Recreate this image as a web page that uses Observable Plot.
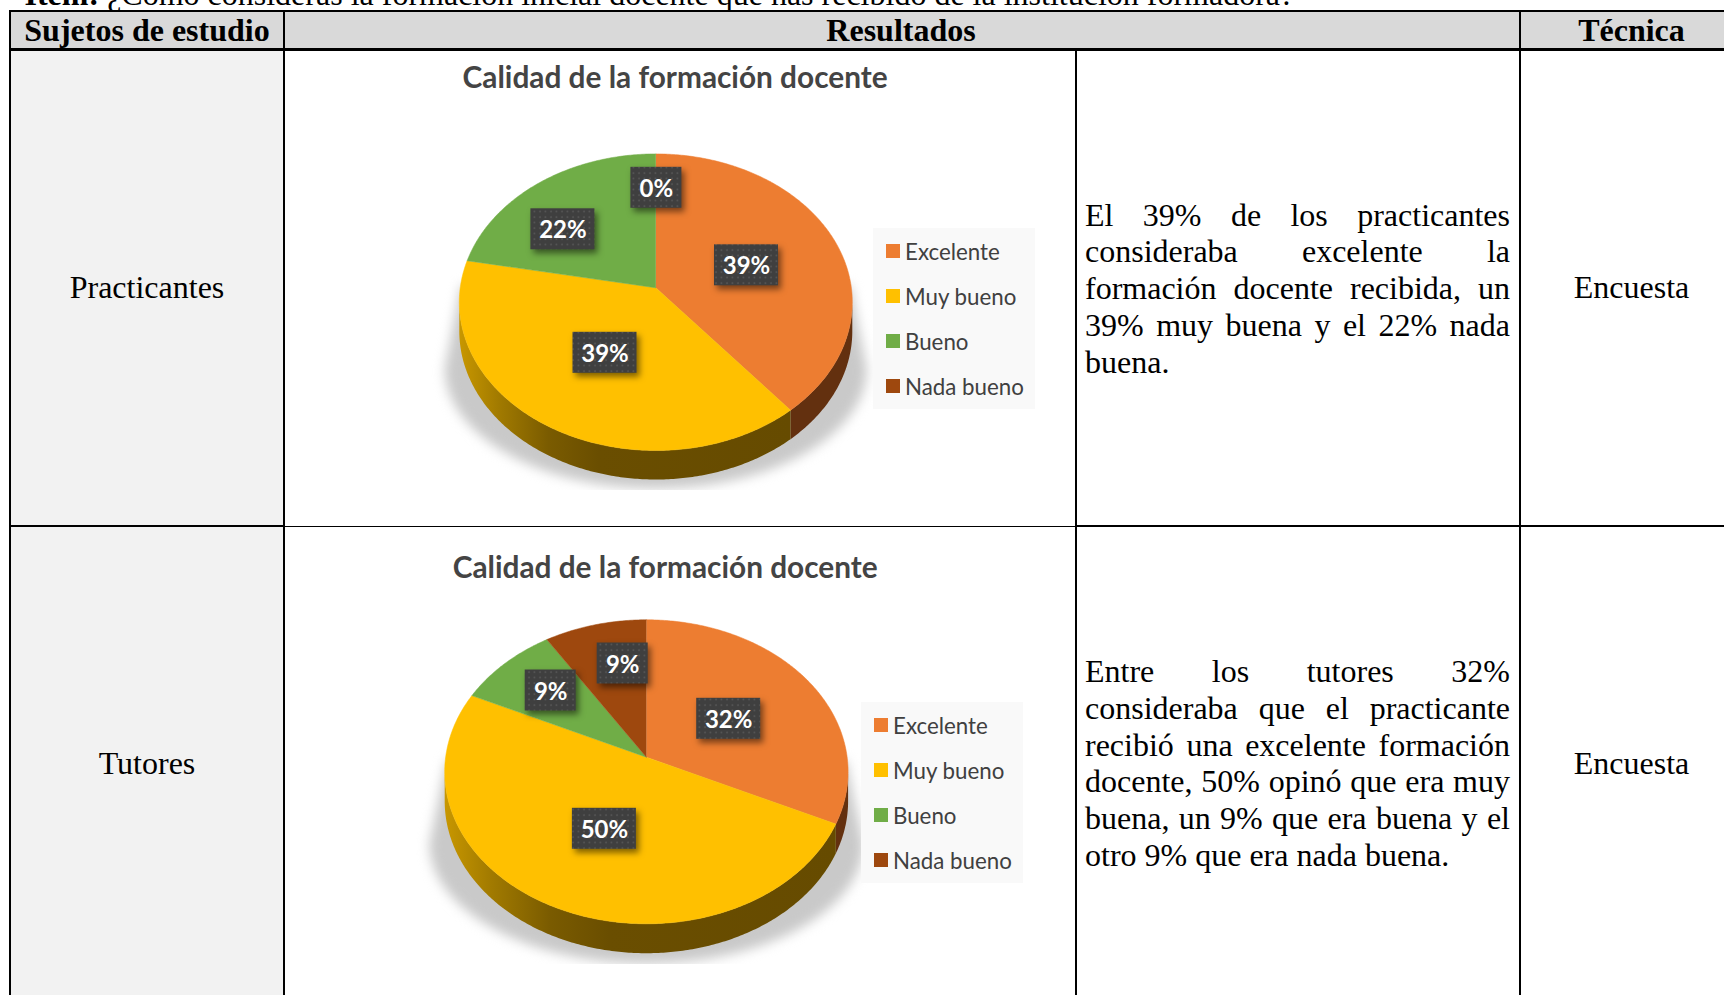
<!DOCTYPE html>
<html lang="es">
<head>
<meta charset="utf-8">
<title>Calidad de la formación docente</title>
<script src="https://cdn.jsdelivr.net/npm/d3@7"></script>
<script src="https://cdn.jsdelivr.net/npm/@observablehq/plot@0.6"></script>
<style>
  html, body { margin: 0; padding: 0; background: #fff; width: 1724px; height: 995px; overflow: hidden; }
  #page { position: relative; width: 1724px; height: 995px; overflow: hidden; font-family: "Liberation Serif", serif; font-size: 32px; color: #000; }
  .box { position: absolute; box-sizing: border-box; }
  .line { position: absolute; background: #000; }
  .t { position: absolute; white-space: nowrap; line-height: 37px; }
  .c { transform: translateX(-50%); }
  .j { position: absolute; left: 1085px; width: 425px; line-height: 37px; text-align: justify; text-align-last: justify; white-space: normal; }
  .j.last { text-align-last: left; }
  .chart { position: absolute; }
  .chart svg { display: block; background: transparent !important; }
</style>
</head>
<body>
<div id="page"></div>
<script>
// ---- data ----
const categories = ["Excelente", "Muy bueno", "Bueno", "Nada bueno"];
const practicantes = [39, 39, 22, 0];
const tutores = [32, 50, 9, 9];
const chartTitle = "Calidad de la formación docente";
const itemText = "¿Cómo consideras la formación inicial docente que has recibido de la institución formadora?";
const headers = ["Sujetos de estudio", "Resultados", "Técnica"];
const subjects = ["Practicantes", "Tutores"];
const technique = "Encuesta";
const textPracticantes = [
  "El 39% de los practicantes",
  "consideraba excelente la",
  "formación docente recibida, un",
  "39% muy buena y el 22% nada",
  "buena."
];
const textTutores = [
  "Entre los tutores 32%",
  "consideraba que el practicante",
  "recibió una excelente formación",
  "docente, 50% opinó que era muy",
  "buena, un 9% que era buena y el",
  "otro 9% que era nada buena."
];

// ---- styling and layout, kept apart from the data ----
const sliceColors = ["#ED7D31", "#FFC000", "#70AD47", "#9E480E"];
const sideFills = ["#63300F", "url(#sideYellow)", "#47702D", "#5E2B08"];
const pies = [
  { top: 50, height: 476, titleX: 674.6, titleY: 78,
    cx: 655.3, cy: 301.7, rx: 196.5, ry: 148.3, apex: 14.4, depth: 29,
    shadow: { cy: 368, rx: 211, ry: 120, topY: 285, clipY: 490 },
    legend: { x1: 873, x2: 1035, y1: 228, y2: 409, swatchX: 886, textX: 904.5, firstY: 251 },
    labelOffsets: [[90.7, -22.5], [-50.8, 65], [-92.9, -58.5], [0.6, -100]] },
  { top: 527, height: 468, titleX: 664.7, titleY: 568,
    cx: 645.9, cy: 771.3, rx: 201.7, ry: 152, apex: 14.6, depth: 29.4,
    shadow: { cy: 843, rx: 217, ry: 120, topY: 760, clipY: 964 },
    legend: { x1: 861, x2: 1023, y1: 702, y2: 883, swatchX: 874, textX: 892.5, firstY: 725 },
    labelOffsets: [[82.3, -38.4], [-42, 71.6], [-95.7, -66.7], [-23.7, -93.7]] }
];
const cellX = [285, 1075];
const sansFont = "Lato, 'Open Sans', sans-serif";

// ---- table ----
const page = document.getElementById("page");
function box(x, y, w, h, bg) {
  const d = document.createElement("div");
  d.className = "box";
  d.style.cssText = `left:${x}px;top:${y}px;width:${w}px;height:${h}px;background:${bg}`;
  page.appendChild(d);
}
function rule(x, y, w, h) {
  const d = document.createElement("div");
  d.className = "line";
  d.style.cssText = `left:${x}px;top:${y}px;width:${w}px;height:${h}px`;
  page.appendChild(d);
}
function text(str, x, yMid, opts = {}) {
  const d = document.createElement("div");
  d.className = "t" + (opts.center ? " c" : "");
  d.style.left = x + "px";
  d.style.top = (yMid - 18.5) + "px";
  if (opts.bold) d.style.fontWeight = "bold";
  if (opts.html) d.innerHTML = str; else d.textContent = str;
  page.appendChild(d);
}
box(10, 11, 1714, 38, "#D9D9D9");
box(10, 49, 274, 946, "#F2F2F2");
text(`<b>Item:</b> ${itemText}`, 24.5, -6, { html: true });
text(headers[0], 147, 30, { center: true, bold: true });
text(headers[1], 901, 30, { center: true, bold: true });
text(headers[2], 1631.5, 30, { center: true, bold: true });
text(subjects[0], 147, 287, { center: true });
text(subjects[1], 147, 763, { center: true });
text(technique, 1631.5, 287, { center: true });
text(technique, 1631.5, 763, { center: true });
function para(lines, firstMid) {
  lines.forEach((l, i) => {
    const d = document.createElement("div");
    d.className = "j" + (i === lines.length - 1 ? " last" : "");
    d.style.top = (firstMid + i * 36.8 - 18.5) + "px";
    d.textContent = l;
    page.appendChild(d);
  });
}
para(textPracticantes, 215);
para(textTutores, 671.5);
rule(9, 10, 1715, 2);
rule(9, 48, 1715, 2.5);
rule(9, 525, 1715, 2);
rule(9, 10, 2, 985);
rule(283, 10, 2, 985);
rule(1075, 49, 2, 946);
rule(1519, 10, 2, 985);

// ---- pies ----
function piePlot(values, cfg) {
  const k = cfg.apex / cfg.ry;
  const A = cfg.rx * Math.sqrt(1 - k * k);
  // perspective view of a flat disc: unit circle (angle t, radius r) to page position
  const project = (t, r, drop = 0) => {
    const u = r * Math.sin(t), w = -r * Math.cos(t), d = 1 - k * w;
    return { x: cfg.cx + A * u / d, y: cfg.cy + (cfg.ry * w - cfg.apex) / d + drop };
  };
  const arcs = d3.pie().sort(null).value(d => d)(values);
  const topFace = [], sideFace = [];
  arcs.forEach((a, i) => {
    const cat = categories[i];
    if (a.endAngle - a.startAngle <= 0) return;
    const n = Math.max(2, Math.ceil((a.endAngle - a.startAngle) * 90));
    const rim = d3.range(n + 1).map(j => a.startAngle + (a.endAngle - a.startAngle) * j / n);
    topFace.push({ cat, ...project(0, 0) });
    rim.forEach(t => topFace.push({ cat, ...project(t, 1) }));
    const front = rim.map(t => project(t, 1)).filter(p => p.y >= cfg.cy);
    if (front.length > 1) {
      front.forEach(p => sideFace.push({ cat, x: p.x, y: p.y }));
      front.slice().reverse().forEach(p => sideFace.push({ cat, x: p.x, y: p.y + cfg.depth }));
    }
  });
  const labels = values.map((v, i) => {
    const s = v + "%";
    const hw = s.length > 2 ? 32 : 25.5;
    const x = cfg.cx + cfg.labelOffsets[i][0], y = cfg.cy - cfg.apex + cfg.labelOffsets[i][1];
    return { s, x, y, x1: x - hw, x2: x + hw, y1: y - 20.5, y2: y + 20.5 };
  });
  const s = cfg.shadow;
  const shadow = [
    { x: cfg.cx - cfg.rx + 2, y: s.topY },
    ...d3.range(0, 61).map(j => {
      const th = Math.PI - Math.PI * j / 60;
      return { x: cfg.cx + s.rx * Math.cos(th), y: s.cy + s.ry * Math.sin(th) };
    }),
    { x: cfg.cx + cfg.rx - 2, y: s.topY }
  ];
  const lg = cfg.legend;
  const legendRows = categories.map((cat, i) => ({ cat, y: lg.firstY + i * 45 }));
  const defs = () => {
    const g = d3.create("svg:defs");
    const grad = g.append("linearGradient").attr("id", "sideYellow");
    [[0, "#C89700"], [0.12, "#A17A00"], [0.27, "#7A5B00"], [0.42, "#6A4E00"], [1, "#664B00"]].forEach(([o, c]) =>
      grad.append("stop").attr("offset", o).attr("stop-color", c));
    const pat = g.append("pattern").attr("id", "dots").attr("width", 5.5).attr("height", 5.5).attr("patternUnits", "userSpaceOnUse");
    pat.append("rect").attr("width", 5.5).attr("height", 5.5).attr("fill", "#3F3F3F");
    pat.append("circle").attr("cx", 2).attr("cy", 2).attr("r", 0.9).attr("fill", "#5A5A5A");
    return g.node();
  };
  return Plot.plot({
    width: cellX[1] - cellX[0], height: cfg.height,
    margin: 0,
    x: { domain: cellX, range: [0, cellX[1] - cellX[0]], axis: null },
    y: { domain: [cfg.top, cfg.top + cfg.height], range: [0, cfg.height], axis: null },
    color: { type: "ordinal", domain: categories, range: sliceColors },
    style: { background: "transparent", overflow: "hidden" },
    marks: [
      defs,
      Plot.line(shadow, { x: "x", y: "y", fill: "#C9C9C9", stroke: "none", imageFilter: "blur(6px)" }),
      Plot.rect([s], { x1: () => cellX[0], x2: () => cellX[1], y1: d => d.clipY, y2: () => cfg.top + cfg.height, fill: "white" }),
      ...categories.map((cat, i) => Plot.line(sideFace.filter(d => d.cat === cat), { x: "x", y: "y", fill: sideFills[i], stroke: "none" })),
      Plot.line(topFace, { x: "x", y: "y", z: "cat", fill: "cat", stroke: "cat", strokeWidth: 0.5 }),
      Plot.rect(labels, { x1: "x1", x2: "x2", y1: "y1", y2: "y2", fill: "url(#dots)", imageFilter: "drop-shadow(3px 4px 3px rgba(0,0,0,0.5))" }),
      Plot.text(labels, { x: "x", y: d => d.y + 1.5, text: "s", fill: "white", fontFamily: sansFont, fontWeight: 700, fontSize: 24 }),
      Plot.text([chartTitle], { x: () => cfg.titleX, y: () => cfg.titleY, text: d => d, fill: "#444444", fontFamily: sansFont, fontWeight: 700, fontSize: 29.8 }),
      Plot.rect([lg], { x1: "x1", x2: "x2", y1: "y1", y2: "y2", fill: "#F9F9F9" }),
      Plot.rect(legendRows, { x1: () => lg.swatchX, x2: () => lg.swatchX + 14, y1: d => d.y - 7, y2: d => d.y + 7, fill: "cat" }),
      Plot.text(legendRows, { x: () => lg.textX, y: d => d.y + 1, text: "cat", textAnchor: "start", fill: "#404040", fontFamily: sansFont, fontSize: 22.3 })
    ]
  });
}
[practicantes, tutores].forEach((vals, i) => {
  const holder = document.createElement("div");
  holder.className = "chart";
  holder.style.cssText = `left:${cellX[0]}px;top:${pies[i].top}px`;
  holder.appendChild(piePlot(vals, pies[i]));
  page.appendChild(holder);
});
</script>
</body>
</html>
